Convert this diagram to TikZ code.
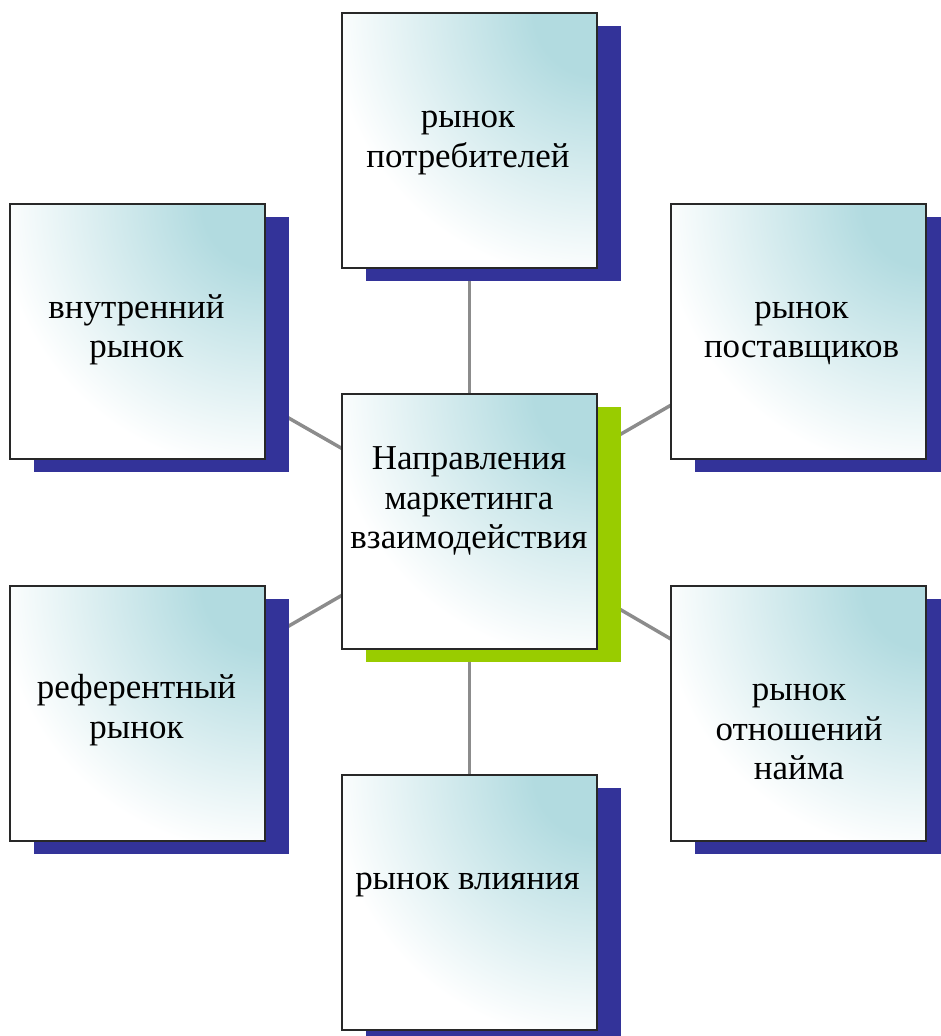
\documentclass[tikz,border=0pt]{standalone}
\usepackage{fontspec}
\setmainfont{Liberation Serif}
\usetikzlibrary{calc,shadows}
\definecolor{navyshadow}{RGB}{51,51,153}
\definecolor{greenshadow}{RGB}{153,204,0}
\definecolor{boxteal}{RGB}{178,219,224}
\definecolor{conngray}{RGB}{140,140,140}
\definecolor{boxborder}{RGB}{40,40,40}
\pgfdeclareradialshading{cornerglow}{\pgfpoint{0bp}{0bp}}{%
  color(0bp)=(boxteal); color(4bp)=(boxteal); color(17bp)=(white); color(50bp)=(white)}
\pgfdeclarelayer{bg}
\pgfsetlayers{bg,main}
\tikzset{
  box/.style={rectangle, minimum width=191.25pt, minimum height=191.25pt,
    inner sep=0pt, outer sep=0pt, draw=boxborder, line width=1.1pt, fill=white,
    path picture={\shade[shading=cornerglow]
      (path picture bounding box.north east) circle (295pt);}},
  navyshade/.style={general shadow={fill=navyshadow, shadow xshift=18pt, shadow yshift=-9.4pt}},
  greenshade/.style={general shadow={fill=greenshadow, shadow xshift=18pt, shadow yshift=-9.4pt}},
  lbl/.style={align=center, inner sep=0pt, text=black,
    font=\fontsize{26.2}{29.6}\selectfont},
  conn/.style={draw=conngray, line width=2.6pt}
}
\begin{document}
\begin{tikzpicture}[x=0.75pt, y=-0.75pt]
\useasboundingbox (0,0) rectangle (940,1036);
% boxes
\node[box, greenshade] (hub) at (469.5,521.5) {};
\node[box, navyshade] (top) at (469.5,140.5) {};
\node[box, navyshade] (bottom) at (469.5,902.5) {};
\node[box, navyshade] (lt) at (137.5,331.5) {};
\node[box, navyshade] (rt) at (798.5,331.5) {};
\node[box, navyshade] (lb) at (137.5,713.5) {};
\node[box, navyshade] (rb) at (798.5,713.5) {};
% labels
\node[lbl] (t-hub) at ($(hub.center)+(-0.5,-20)$) {\strut Направления\\\strut маркетинга\\\strut взаимодействия};
\node[lbl] (t-top) at ($(top.center)+(-1.5,-1)$) {\strut рынок\\\strut потребителей};
\node[lbl] (t-bottom) at ($(bottom.center)+(-2,-20.5)$) {\strut рынок влияния};
\node[lbl] (t-lt) at ($(lt.center)+(-1,-1.5)$) {\strut внутренний\\\strut рынок};
\node[lbl] (t-rt) at ($(rt.center)+(3,-1.5)$) {\strut рынок\\\strut поставщиков};
\node[lbl] (t-lb) at ($(lb.center)+(-1,-3)$) {\strut референтный\\\strut рынок};
\node[lbl] (t-rb) at ($(rb.center)+(0.5,19)$) {\strut рынок\\\strut отношений\\\strut найма};
% connectors
\begin{pgfonlayer}{bg}
\draw[conn] (hub.center) -- (top.center);
\draw[conn] (hub.center) -- (bottom.center);
\draw[conn] (hub.center) -- (lt.center);
\draw[conn] (hub.center) -- (rt.center);
\draw[conn] (hub.center) -- (lb.center);
\draw[conn] (hub.center) -- (rb.center);
\end{pgfonlayer}
\end{tikzpicture}
\end{document}
